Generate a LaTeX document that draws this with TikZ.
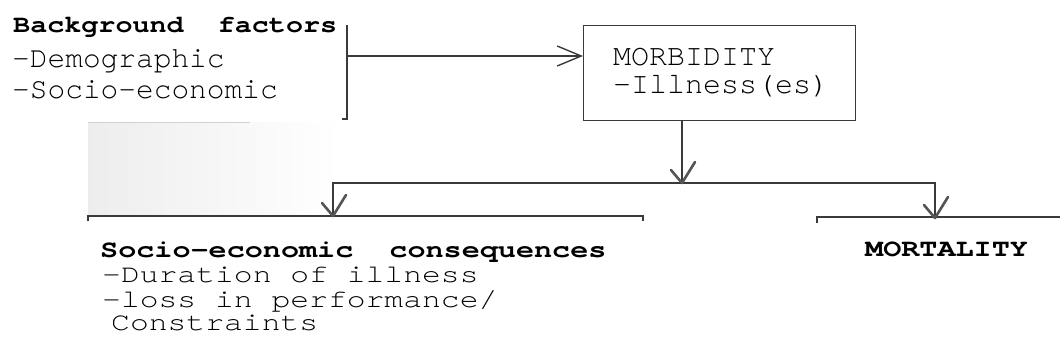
\documentclass[tikz,border=0pt]{standalone}
\usepackage{fontspec}
\usetikzlibrary{arrows.meta}
\newfontfamily\monoreg{texgyrecursor}[Extension=.otf, UprightFont=*-regular, BoldFont=*-bold]
\newfontfamily\monoboldtop{texgyrecursor}[Extension=.otf, UprightFont=*-regular, BoldFont=*-bold, FakeStretch=1.16]
\newfontfamily\monolow{texgyrecursor}[Extension=.otf, UprightFont=*-regular, BoldFont=*-bold, FakeStretch=1.23]
\definecolor{ink}{HTML}{3A3A3A}
\definecolor{checkink}{HTML}{555555}
\begin{document}
\begin{tikzpicture}[x=1pt,y=1pt,
  txt/.style={inner sep=0pt, anchor=base west, text=black},
  boldtop/.style={txt, font=\monoboldtop\bfseries\fontsize{24.5}{25}\selectfont},
  regtop/.style={txt, font=\monoreg\fontsize{29.5}{31}\selectfont},
  boxtxt/.style={txt, font=\monoreg\fontsize{30}{27}\selectfont},
  boldlow/.style={txt, font=\monolow\bfseries\fontsize{24.5}{25}\selectfont},
  reglow/.style={txt, font=\monolow\fontsize{25.5}{25}\selectfont},
  conn/.style={draw=ink, line width=1.4pt},
  checktip/.style={draw=checkink, line width=2.6pt, line cap=round, line join=round},
  boxstyle/.style={draw=ink, line width=1.4pt, fill=none, inner sep=0pt, anchor=north west}
]
\useasboundingbox (0,0) rectangle (1060,-356);

% faint scan shading
\fill[left color=black!7, right color=white] (88,-122) rectangle (340,-214);
\draw[black!18, line width=1pt] (88,-122) -- (250,-122);

% top-left block
\node[boldtop] (bg) at (13,-32) {Background\ \ factors};
\node[regtop] (demo) at (12,-67) {-Demographic};
\node[regtop] (soc) at (12,-98) {-Socio-economic};

% morbidity box
\node[boxstyle, minimum width=272pt, minimum height=95pt] (morb) at (583,-25) {};
\node[boxtxt] (morbt) at (613,-65) {MORBIDITY};
\node[boxtxt] (ill) at (613,-93) {-Illness(es)};

% bracket and arrow
\coordinate (brT) at (347,-25);
\coordinate (brB) at (347,-119);
\coordinate (brTick) at (342,-119);
\coordinate (arrS) at (347,-56);
\draw[conn] (brT) -- (brB) -- (brTick);
\draw[conn, -{Straight Barb[length=24pt,width=20pt,line width=1.4pt]}] (arrS) -- (arrS -| morb.west);

% stem and split
\coordinate (stemTop) at (682,-120);
\coordinate (j) at (682,-183);
\coordinate (hl) at (333,-183);
\coordinate (hr) at (935,-183);
\coordinate (lc) at (333,-216);
\coordinate (rc) at (935,-218);
\draw[conn] (stemTop) -- (j);
\draw[conn] (lc) -- (hl) -- (hr) -- (rc);

% lower lines
\coordinate (ll1) at (88,-216);
\coordinate (ll2) at (643,-216);
\coordinate (lr1) at (817,-217);
\coordinate (lr2) at (1060,-217);
\draw[conn] ([yshift=-5pt]ll1) -- (ll1) -- (ll2) -- ([yshift=-5pt]ll2);
\draw[conn] ([yshift=-6pt]lr1) -- (lr1) -- (lr2);

% hand-drawn check arrowheads
\foreach \c in {j,lc,rc}{
  \draw[checktip] ([shift={(-11,13)}]\c) -- (\c) -- ([shift={(13,21)}]\c);
}

% lower texts
\node[boldlow] (cons) at (100,-257) {Socio-economic\ \ consequences};
\node[reglow] (dur) at (102,-282) {-Duration of illness};
\node[reglow] (loss) at (102,-307) {-loss in performance/};
\node[reglow] (constr) at (111,-330) {Constraints};
\node[boldlow] (mort) at (865,-256) {MORTALITY};
\end{tikzpicture}
\end{document}
